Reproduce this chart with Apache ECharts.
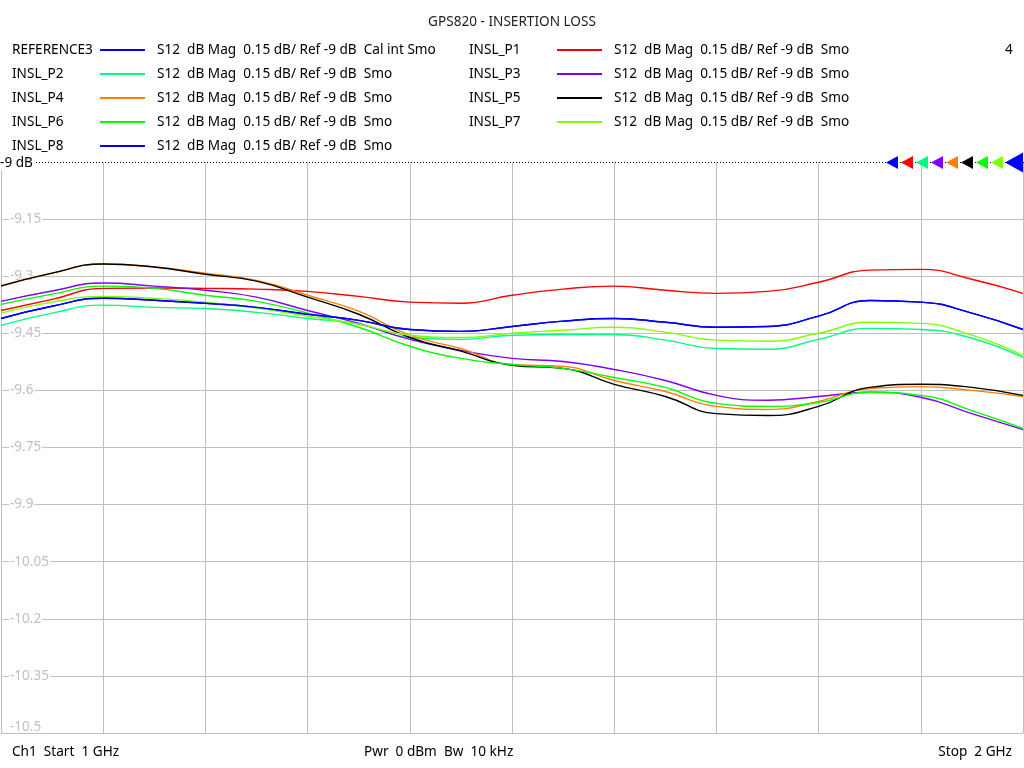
<!DOCTYPE html>
<html>
<head>
<meta charset="utf-8">
<script src="https://cdn.jsdelivr.net/npm/echarts@6/dist/echarts.min.js"></script>
<style>html,body{margin:0;padding:0;background:#fff}#c{width:1024px;height:768px}</style>
</head>
<body>
<div id="c"></div>
<script>
// ---- data ----
const freqs = [1.00,1.05,1.10,1.15,1.20,1.25,1.30,1.35,1.40,1.45,1.50,1.55,1.60,1.65,1.70,1.75,1.80,1.85,1.90,1.95,2.00];
const traceNames = ['REFERENCE3','INSL_P1','INSL_P2','INSL_P3','INSL_P4','INSL_P5','INSL_P6','INSL_P7','INSL_P8'];
const traceColors = ['#0000ff','#ff0000','#00ff80','#8000ff','#ff8000','#000000','#00ff00','#80ff00','#0000ff'];
const traceDescs = [
  'S12  dB Mag  0.15 dB/ Ref -9 dB  Cal int Smo',
  'S12  dB Mag  0.15 dB/ Ref -9 dB  Smo',
  'S12  dB Mag  0.15 dB/ Ref -9 dB  Smo',
  'S12  dB Mag  0.15 dB/ Ref -9 dB  Smo',
  'S12  dB Mag  0.15 dB/ Ref -9 dB  Smo',
  'S12  dB Mag  0.15 dB/ Ref -9 dB  Smo',
  'S12  dB Mag  0.15 dB/ Ref -9 dB  Smo',
  'S12  dB Mag  0.15 dB/ Ref -9 dB  Smo',
  'S12  dB Mag  0.15 dB/ Ref -9 dB  Smo'
];
const ref3 = [-9.411,-9.379,-9.358,-9.363,-9.371,-9.382,-9.400,-9.416,-9.440,-9.445,-9.432,-9.418,-9.411,-9.421,-9.434,-9.432,-9.405,-9.364,-9.368,-9.397,-9.440];
const p1 = [-9.390,-9.361,-9.332,-9.331,-9.332,-9.334,-9.340,-9.353,-9.368,-9.371,-9.350,-9.334,-9.326,-9.337,-9.345,-9.340,-9.316,-9.284,-9.282,-9.308,-9.345];
const p2 = [-9.429,-9.397,-9.376,-9.382,-9.385,-9.395,-9.411,-9.426,-9.461,-9.466,-9.455,-9.453,-9.453,-9.468,-9.490,-9.492,-9.466,-9.437,-9.440,-9.463,-9.513];
const p3 = [-9.366,-9.339,-9.318,-9.326,-9.337,-9.355,-9.390,-9.424,-9.466,-9.495,-9.516,-9.524,-9.545,-9.574,-9.613,-9.626,-9.616,-9.605,-9.618,-9.661,-9.703];
const p4 = [-9.324,-9.292,-9.268,-9.276,-9.292,-9.311,-9.350,-9.392,-9.455,-9.490,-9.532,-9.537,-9.574,-9.603,-9.642,-9.650,-9.629,-9.595,-9.590,-9.600,-9.616];
const p5 = [-9.326,-9.292,-9.268,-9.276,-9.295,-9.313,-9.355,-9.400,-9.461,-9.497,-9.534,-9.542,-9.584,-9.616,-9.661,-9.666,-9.642,-9.592,-9.584,-9.592,-9.613];
const p6 = [-9.374,-9.347,-9.326,-9.332,-9.350,-9.366,-9.397,-9.434,-9.484,-9.516,-9.532,-9.542,-9.566,-9.592,-9.634,-9.642,-9.632,-9.605,-9.613,-9.653,-9.700];
const p7 = [-9.397,-9.368,-9.353,-9.358,-9.368,-9.384,-9.405,-9.426,-9.455,-9.461,-9.450,-9.442,-9.434,-9.447,-9.468,-9.471,-9.450,-9.421,-9.424,-9.455,-9.508];
const p8 = [-9.411,-9.379,-9.358,-9.363,-9.371,-9.382,-9.400,-9.416,-9.440,-9.445,-9.432,-9.418,-9.411,-9.421,-9.434,-9.432,-9.405,-9.364,-9.368,-9.397,-9.440];
const traceValues = [ref3,p1,p2,p3,p4,p5,p6,p7,p8];
const titleText = 'GPS820 - INSERTION LOSS';
const refLabel = '-9 dB';
const channelText = 'Ch1  Start  1 GHz';
const powerText = 'Pwr  0 dBm  Bw  10 kHz';
const stopText = 'Stop  2 GHz';
const windowNo = '4';
const yMin = -10.5, yMax = -9, yStep = 0.15;
const xMin = 1, xMax = 2, xStep = 0.1;

// ---- layout ----
const FONT = '"Noto Sans", "DejaVu Sans", sans-serif';
const FS = '13.6px ';
const GRID = {left: 1, right: 1, top: 162, bottom: 35};
const GRIDC = '#c0c0c0';

const chart = echarts.init(document.getElementById('c'), null, {renderer: 'canvas'});

const series = traceNames.map((n, i) => ({
  name: n,
  type: 'line',
  data: freqs.map((f, k) => [f, traceValues[i][k]]),
  showSymbol: false,
  smooth: 0.5,
  lineStyle: {color: traceColors[i], width: 1.4},
  itemStyle: {color: traceColors[i]},
  silent: true,
  z: 2 + i
}));

const graphics = [];
graphics.push({type: 'text', x: 512, y: 22, style: {text: titleText, font: FS + FONT, fill: '#222', textAlign: 'center', textVerticalAlign: 'middle'}});
traceNames.forEach((n, i) => {
  const col = i % 2, row = Math.floor(i / 2);
  const y = 50 + 24 * row;
  const nx = [12, 469][col], lx0 = [100, 557][col], lx1 = [145, 602][col], dx = [157, 614][col];
  graphics.push({type: 'text', x: nx, y: y, style: {text: n, font: FS + FONT, fill: '#000', textVerticalAlign: 'middle'}});
  graphics.push({type: 'line', shape: {x1: lx0, y1: y, x2: lx1, y2: y}, style: {stroke: traceColors[i], lineWidth: 2}});
  graphics.push({type: 'text', x: dx, y: y, style: {text: traceDescs[i], font: FS + FONT, fill: '#000', textVerticalAlign: 'middle'}});
});
graphics.push({type: 'text', x: 1005, y: 50, style: {text: windowNo, font: FS + FONT, fill: '#000', textVerticalAlign: 'middle'}});
// top reference line (dotted)
graphics.push({type: 'line', z: 50, shape: {x1: 36, y1: GRID.top + 0.5, x2: 1024, y2: GRID.top + 0.5}, style: {stroke: '#000', lineWidth: 1, lineDash: [1, 2]}});
graphics.push({type: 'text', z: 51, x: 0, y: GRID.top + 1, style: {text: refLabel, font: FS + FONT, fill: '#000', textVerticalAlign: 'middle', backgroundColor: '#fff', padding: [0, 1, 0, 0]}});
// reference level markers
traceColors.forEach((c, i) => {
  const big = i === traceColors.length - 1;
  const x0 = big ? 1005 : 886 + 15 * i;
  const w = big ? 18 : 12, h = big ? 10 : 6.5;
  const cy = GRID.top + 0.5;
  graphics.push({type: 'polygon', z: 60, shape: {points: [[x0, cy], [x0 + w, cy - h], [x0 + w, cy + h]]}, style: {fill: c}});
});
// footer
graphics.push({type: 'text', x: 12, y: 752, style: {text: channelText, font: FS + FONT, fill: '#000', textVerticalAlign: 'middle'}});
graphics.push({type: 'text', x: 364, y: 752, style: {text: powerText, font: FS + FONT, fill: '#000', textVerticalAlign: 'middle'}});
graphics.push({type: 'text', x: 1012, y: 752, style: {text: stopText, font: FS + FONT, fill: '#000', textAlign: 'right', textVerticalAlign: 'middle'}});

chart.setOption({
  animation: false,
  backgroundColor: '#fff',
  grid: GRID,
  xAxis: {
    type: 'value', min: xMin, max: xMax, interval: xStep,
    axisLabel: {show: false}, axisTick: {show: false},
    axisLine: {show: true, lineStyle: {color: GRIDC, width: 1}},
    splitLine: {show: true, lineStyle: {color: GRIDC, width: 1}}
  },
  yAxis: {
    type: 'value', min: yMin, max: yMax, interval: yStep,
    axisLine: {show: false}, axisTick: {show: false},
    splitLine: {show: true, showMaxLine: false, lineStyle: {color: GRIDC, width: 1}},
    axisLabel: {
      inside: true, margin: 8, showMaxLabel: false,
      formatter: function (v) {
        const r = Math.round(v * 100) / 100;
        if (Math.abs(r - yMax) < 1e-6) return '';
        if (Math.abs(r - yMin) < 1e-6) return '{b|' + r + '}';
        return '{a|' + r + '}';
      },
      rich: {
        a: {color: '#c0c0c0', fontSize: 13.5, fontFamily: FONT, backgroundColor: '#fff', padding: [0, 1, 0, 1]},
        b: {color: '#c0c0c0', fontSize: 13.5, fontFamily: FONT, padding: [0, 1, 12, 1]}
      }
    }
  },
  series: series,
  graphic: graphics
});
</script>
</body>
</html>
